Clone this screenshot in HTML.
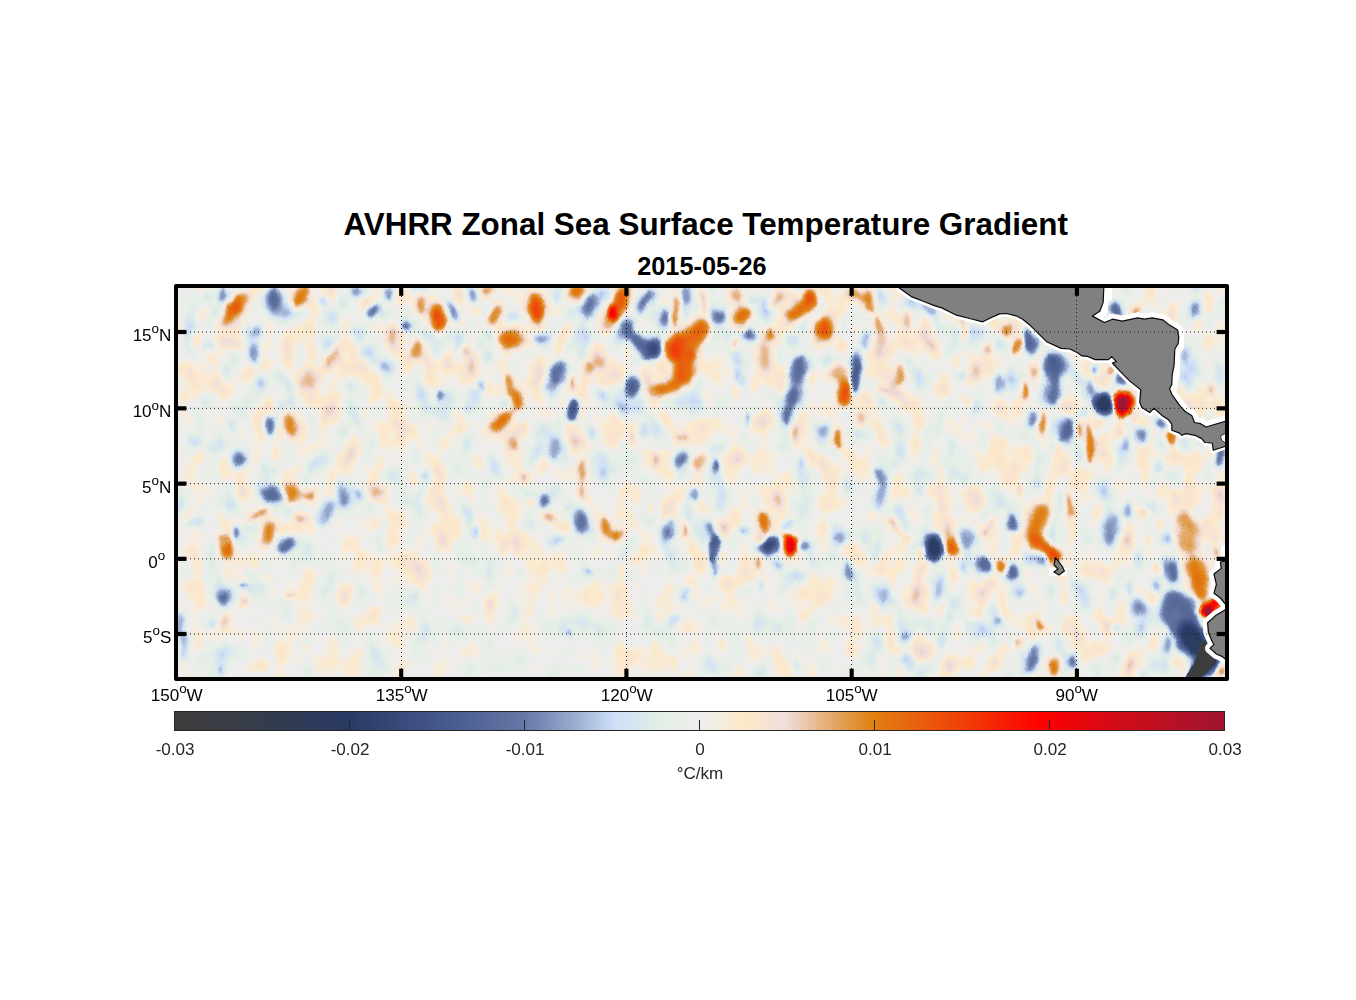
<!DOCTYPE html>
<html><head><meta charset="utf-8"><title>AVHRR Zonal Sea Surface Temperature Gradient</title>
<style>
html,body{margin:0;padding:0;background:#fff;}
body{width:1356px;height:1000px;overflow:hidden;font-family:"Liberation Sans",sans-serif;}
svg{display:block;position:absolute;left:0;top:0;}
text{font-family:"Liberation Sans",sans-serif;}
.ax{font-size:17.07px;fill:#000;}
.cb{font-size:17.07px;fill:#262626;}
.sup{font-size:13.4px;}
</style></head><body>
<svg width="1356" height="1000" viewBox="0 0 1356 1000">
<defs>
<clipPath id="mc"><rect x="178" y="288" width="1047" height="389"/></clipPath>
<filter id="b1" filterUnits="userSpaceOnUse" x="150" y="260" width="1100" height="450" color-interpolation-filters="sRGB"><feGaussianBlur stdDeviation="1.2"/></filter>
<filter id="b2" filterUnits="userSpaceOnUse" x="150" y="260" width="1100" height="450" color-interpolation-filters="sRGB"><feGaussianBlur stdDeviation="2.7"/></filter>
<filter id="b3" filterUnits="userSpaceOnUse" x="150" y="260" width="1100" height="450" color-interpolation-filters="sRGB"><feGaussianBlur stdDeviation="3.9"/></filter>
<filter id="b4" filterUnits="userSpaceOnUse" x="150" y="260" width="1100" height="450" color-interpolation-filters="sRGB"><feGaussianBlur stdDeviation="4.8"/></filter>
<filter id="b5" filterUnits="userSpaceOnUse" x="150" y="260" width="1100" height="450" color-interpolation-filters="sRGB"><feGaussianBlur stdDeviation="7"/></filter>
<filter id="cm" filterUnits="userSpaceOnUse" x="66" y="176" width="1271" height="613" color-interpolation-filters="sRGB">
<feTurbulence type="fractalNoise" baseFrequency="0.044 0.031" numOctaves="2" seed="7" result="n"/>
<feColorMatrix in="n" type="matrix" values="1 0 0 0 0  1 0 0 0 0  1 0 0 0 0  0 0 0 0 1" result="ng"/>
<feTurbulence type="fractalNoise" baseFrequency="0.055 0.04" numOctaves="2" seed="5" result="dn"/>
<feDisplacementMap in="SourceGraphic" in2="dn" scale="8" xChannelSelector="R" yChannelSelector="G" result="SG"/>
<feFlood flood-color="#c4c4c4" result="m0"/>
<feFlood flood-color="#f2f2f2" x="100" y="200" width="1200" height="215" result="m1"/>
<feFlood flood-color="#e6e6e6" x="880" y="200" width="450" height="600" result="m2"/>
<feFlood flood-color="#8c8c8c" x="100" y="565" width="760" height="220" result="m3"/>
<feFlood flood-color="#b8b8b8" x="420" y="470" width="440" height="100" result="m4"/>
<feMerge result="mm"><feMergeNode in="m0"/><feMergeNode in="m1"/><feMergeNode in="m2"/><feMergeNode in="m3"/><feMergeNode in="m4"/></feMerge>
<feGaussianBlur in="mm" stdDeviation="30" result="M0"/>
<feComponentTransfer in="SG" result="sup"><feFuncR type="table" tableValues="0.300 0.300 0.300 0.300 0.300 0.300 0.300 0.300 0.300 0.300 0.300 0.300 0.300 0.300 0.300 0.300 0.350 0.512 0.675 0.837 1.000 0.837 0.675 0.513 0.350 0.300 0.300 0.300 0.300 0.300 0.300 0.300 0.300 0.300 0.300 0.300 0.300 0.300 0.300 0.300 0.300"/><feFuncG type="table" tableValues="0.300 0.300 0.300 0.300 0.300 0.300 0.300 0.300 0.300 0.300 0.300 0.300 0.300 0.300 0.300 0.300 0.350 0.512 0.675 0.837 1.000 0.837 0.675 0.513 0.350 0.300 0.300 0.300 0.300 0.300 0.300 0.300 0.300 0.300 0.300 0.300 0.300 0.300 0.300 0.300 0.300"/><feFuncB type="table" tableValues="0.300 0.300 0.300 0.300 0.300 0.300 0.300 0.300 0.300 0.300 0.300 0.300 0.300 0.300 0.300 0.300 0.350 0.512 0.675 0.837 1.000 0.837 0.675 0.513 0.350 0.300 0.300 0.300 0.300 0.300 0.300 0.300 0.300 0.300 0.300 0.300 0.300 0.300 0.300 0.300 0.300"/></feComponentTransfer>
<feComposite in="M0" in2="sup" operator="arithmetic" k1="1" k2="0" k3="0" k4="0" result="M"/>
<feComposite in="ng" in2="M" operator="arithmetic" k1="1" k2="0" k3="0" k4="0" result="nm"/>
<feComposite in="SG" in2="nm" operator="arithmetic" k1="0" k2="1" k3="0.22" k4="0" result="s1"/>
<feComposite in="s1" in2="M" operator="arithmetic" k1="0" k2="1" k3="-0.1100" k4="0.1000" result="s"/>
<feComponentTransfer in="s">
<feFuncR type="table" tableValues="0.235 0.235 0.235 0.235 0.235 0.235 0.235 0.235 0.235 0.235 0.235 0.235 0.235 0.235 0.235 0.235 0.235 0.235 0.235 0.235 0.235 0.235 0.235 0.235 0.235 0.235 0.235 0.235 0.235 0.235 0.235 0.235 0.235 0.235 0.235 0.235 0.235 0.235 0.235 0.235 0.235 0.235 0.235 0.235 0.235 0.235 0.235 0.235 0.235 0.235 0.235 0.235 0.235 0.235 0.233 0.231 0.229 0.227 0.225 0.223 0.221 0.219 0.214 0.210 0.205 0.200 0.196 0.191 0.187 0.182 0.177 0.173 0.168 0.164 0.159 0.162 0.172 0.183 0.193 0.203 0.214 0.224 0.234 0.245 0.255 0.265 0.277 0.289 0.301 0.312 0.324 0.336 0.348 0.360 0.372 0.383 0.401 0.436 0.472 0.507 0.542 0.577 0.614 0.654 0.695 0.735 0.776 0.813 0.828 0.842 0.856 0.871 0.885 0.897 0.906 0.915 0.924 0.932 0.943 0.954 0.965 0.975 0.985 0.989 0.979 0.968 0.957 0.946 0.937 0.929 0.921 0.914 0.906 0.897 0.889 0.880 0.878 0.878 0.878 0.882 0.888 0.894 0.900 0.905 0.911 0.917 0.923 0.929 0.935 0.940 0.947 0.953 0.959 0.965 0.971 0.978 0.984 0.990 0.996 0.992 0.973 0.954 0.935 0.916 0.898 0.879 0.860 0.841 0.822 0.806 0.791 0.776 0.762 0.747 0.732 0.717 0.703 0.688 0.673 0.659 0.644 0.629 0.627 0.627 0.627 0.627 0.627 0.627 0.627 0.627 0.627 0.627 0.627"/>
<feFuncG type="table" tableValues="0.235 0.235 0.235 0.235 0.235 0.235 0.235 0.235 0.235 0.235 0.235 0.235 0.235 0.235 0.235 0.235 0.235 0.235 0.235 0.235 0.235 0.235 0.235 0.235 0.235 0.235 0.235 0.235 0.235 0.235 0.235 0.235 0.235 0.235 0.235 0.235 0.235 0.235 0.235 0.235 0.235 0.235 0.235 0.235 0.235 0.235 0.235 0.235 0.235 0.235 0.235 0.235 0.235 0.235 0.235 0.235 0.235 0.235 0.235 0.235 0.235 0.235 0.235 0.234 0.233 0.233 0.232 0.232 0.231 0.231 0.230 0.229 0.229 0.228 0.228 0.233 0.243 0.253 0.264 0.274 0.284 0.295 0.305 0.315 0.326 0.336 0.348 0.360 0.372 0.385 0.397 0.409 0.421 0.433 0.445 0.458 0.476 0.510 0.545 0.579 0.614 0.648 0.684 0.724 0.764 0.804 0.843 0.880 0.890 0.900 0.910 0.921 0.931 0.937 0.936 0.935 0.934 0.933 0.931 0.929 0.927 0.923 0.916 0.908 0.899 0.891 0.883 0.875 0.852 0.816 0.780 0.744 0.708 0.674 0.641 0.609 0.577 0.546 0.514 0.487 0.464 0.441 0.417 0.394 0.370 0.347 0.324 0.300 0.277 0.254 0.228 0.201 0.175 0.148 0.122 0.095 0.069 0.042 0.016 0.002 0.007 0.012 0.016 0.021 0.026 0.031 0.036 0.041 0.046 0.049 0.051 0.054 0.056 0.059 0.061 0.063 0.066 0.068 0.071 0.073 0.076 0.078 0.078 0.078 0.078 0.078 0.078 0.078 0.078 0.078 0.078 0.078 0.078"/>
<feFuncB type="table" tableValues="0.235 0.235 0.235 0.235 0.235 0.235 0.235 0.235 0.235 0.235 0.235 0.235 0.235 0.235 0.235 0.235 0.235 0.235 0.235 0.235 0.235 0.235 0.235 0.235 0.235 0.235 0.235 0.235 0.235 0.235 0.235 0.235 0.235 0.235 0.235 0.235 0.235 0.235 0.235 0.235 0.235 0.235 0.235 0.235 0.235 0.235 0.235 0.235 0.235 0.235 0.235 0.235 0.235 0.235 0.240 0.245 0.250 0.255 0.260 0.265 0.270 0.276 0.285 0.293 0.302 0.311 0.319 0.328 0.336 0.345 0.354 0.362 0.371 0.379 0.388 0.399 0.413 0.427 0.441 0.455 0.469 0.483 0.497 0.511 0.525 0.539 0.550 0.561 0.571 0.581 0.592 0.602 0.612 0.623 0.633 0.643 0.658 0.685 0.713 0.740 0.768 0.795 0.823 0.854 0.884 0.915 0.946 0.971 0.957 0.944 0.930 0.916 0.903 0.897 0.906 0.915 0.924 0.932 0.912 0.888 0.864 0.838 0.807 0.789 0.807 0.825 0.843 0.862 0.830 0.752 0.673 0.595 0.516 0.437 0.359 0.280 0.214 0.150 0.086 0.061 0.058 0.055 0.052 0.049 0.046 0.043 0.040 0.038 0.035 0.032 0.028 0.025 0.022 0.019 0.015 0.012 0.009 0.005 0.002 0.004 0.014 0.023 0.033 0.043 0.052 0.062 0.072 0.081 0.091 0.099 0.106 0.114 0.121 0.129 0.136 0.143 0.151 0.158 0.165 0.173 0.180 0.187 0.188 0.188 0.188 0.188 0.188 0.188 0.188 0.188 0.188 0.188 0.188"/>
</feComponentTransfer>
</filter>
<linearGradient id="cbg" x1="0" y1="0" x2="1" y2="0">
<stop offset="0.0" stop-color="#3c3c3c"/><stop offset="0.06" stop-color="#383c46"/><stop offset="0.167" stop-color="#283a64"/><stop offset="0.25" stop-color="#44568a"/><stop offset="0.333" stop-color="#6477a6"/><stop offset="0.38" stop-color="#9aacd0"/><stop offset="0.42" stop-color="#cfe0f8"/><stop offset="0.465" stop-color="#e4efe4"/><stop offset="0.5" stop-color="#eeeeee"/><stop offset="0.528" stop-color="#f8ecd8"/><stop offset="0.544" stop-color="#fde8c8"/><stop offset="0.581" stop-color="#f0dede"/><stop offset="0.62" stop-color="#e6b07a"/><stop offset="0.641" stop-color="#e09a44"/><stop offset="0.666" stop-color="#e08010"/><stop offset="0.75" stop-color="#f04008"/><stop offset="0.824" stop-color="#ff0000"/><stop offset="0.9" stop-color="#d00c18"/><stop offset="1.0" stop-color="#a01430"/></linearGradient></defs>
<rect x="0" y="0" width="1356" height="1000" fill="#ffffff"/>
<text x="705.7" y="234.8" text-anchor="middle" font-size="31.4" font-weight="bold" fill="#000">AVHRR Zonal Sea Surface Temperature Gradient</text>
<text x="701.9" y="275" text-anchor="middle" font-size="25.3" font-weight="bold" fill="#000">2015-05-26</text>
<rect x="176" y="286" width="1051" height="393" fill="#eeeeee"/>
<g clip-path="url(#mc)">
<g filter="url(#cm)">
<rect x="60" y="170" width="1284" height="626" fill="#808080"/>
<g filter="url(#b4)"><ellipse cx="286.0" cy="346.0" rx="6" ry="14" fill="#8a8a8a"/><ellipse cx="316.0" cy="372.0" rx="18" ry="20" fill="#888888"/><ellipse cx="216.0" cy="386.0" rx="15" ry="10" fill="#888888"/><ellipse cx="352.0" cy="442.0" rx="9" ry="17" fill="#888888"/><ellipse cx="384.0" cy="434.0" rx="9" ry="13" fill="#8c8c8c" transform="rotate(20 384.0 434.0)"/><ellipse cx="336.0" cy="414.0" rx="11" ry="7" fill="#898989"/><ellipse cx="235.0" cy="344.0" rx="8" ry="7" fill="#8f8f8f"/><ellipse cx="472.0" cy="366.0" rx="10" ry="14" fill="#8c8c8c"/><ellipse cx="598.0" cy="352.0" rx="12" ry="16" fill="#888888"/><ellipse cx="602.0" cy="382.0" rx="8" ry="6" fill="#909090"/><ellipse cx="558.0" cy="312.0" rx="8" ry="8" fill="#898989"/><ellipse cx="696.0" cy="426.0" rx="14" ry="8" fill="#898989"/><ellipse cx="616.0" cy="422.0" rx="6" ry="8" fill="#909090"/><ellipse cx="948.0" cy="456.0" rx="7" ry="20" fill="#757575" transform="rotate(-10 948.0 456.0)"/><ellipse cx="766.0" cy="370.0" rx="14" ry="18" fill="#8b8b8b"/><ellipse cx="890.0" cy="362.0" rx="12" ry="25" fill="#8c8c8c"/><ellipse cx="932.0" cy="350.0" rx="8" ry="14" fill="#898989"/><ellipse cx="764.0" cy="418.0" rx="8" ry="8" fill="#8e8e8e"/><ellipse cx="736.0" cy="456.0" rx="6" ry="15" fill="#8a8a8a"/><ellipse cx="776.0" cy="462.0" rx="10" ry="10" fill="#888888"/><ellipse cx="824.0" cy="466.0" rx="6" ry="10" fill="#8a8a8a"/><ellipse cx="904.0" cy="470.0" rx="6" ry="8" fill="#8b8b8b"/><ellipse cx="1006.0" cy="458.0" rx="25" ry="18" fill="#888888"/><ellipse cx="1204.0" cy="376.0" rx="10" ry="12" fill="#888888"/><ellipse cx="1190.0" cy="460.0" rx="6" ry="8" fill="#8b8b8b"/><ellipse cx="1142.0" cy="458.0" rx="6" ry="8" fill="#8b8b8b"/><ellipse cx="226.0" cy="650.0" rx="6" ry="8" fill="#6e6e6e"/><ellipse cx="418.0" cy="574.0" rx="10" ry="14" fill="#8c8c8c" transform="rotate(15 418.0 574.0)"/><ellipse cx="352.0" cy="544.0" rx="7" ry="10" fill="#898989"/><ellipse cx="346.0" cy="594.0" rx="6" ry="10" fill="#8a8a8a"/><ellipse cx="434.0" cy="498.0" rx="7" ry="12" fill="#898989"/><ellipse cx="376.0" cy="520.0" rx="7" ry="14" fill="#898989"/><ellipse cx="242.0" cy="492.0" rx="8" ry="6" fill="#8b8b8b"/><ellipse cx="522.0" cy="540.0" rx="12" ry="14" fill="#8c8c8c" transform="rotate(-20 522.0 540.0)"/><ellipse cx="560.0" cy="500.0" rx="8" ry="10" fill="#898989"/><ellipse cx="616.0" cy="612.0" rx="6" ry="10" fill="#8a8a8a"/><ellipse cx="574.0" cy="594.0" rx="6" ry="8" fill="#8b8b8b" transform="rotate(20 574.0 594.0)"/><ellipse cx="658.0" cy="618.0" rx="6" ry="6" fill="#8d8d8d"/><ellipse cx="736.0" cy="580.0" rx="18" ry="8" fill="#8d8d8d" transform="rotate(-30 736.0 580.0)"/><ellipse cx="822.0" cy="586.0" rx="10" ry="14" fill="#888888"/><ellipse cx="774.0" cy="498.0" rx="10" ry="12" fill="#888888"/><ellipse cx="926.0" cy="650.0" rx="7" ry="12" fill="#8e8e8e"/><ellipse cx="952.0" cy="584.0" rx="6" ry="14" fill="#8a8a8a"/><ellipse cx="968.0" cy="496.0" rx="10" ry="6" fill="#8a8a8a"/><ellipse cx="748.0" cy="640.0" rx="6" ry="8" fill="#8b8b8b"/><ellipse cx="1098.0" cy="650.0" rx="14" ry="10" fill="#888888" transform="rotate(-20 1098.0 650.0)"/><ellipse cx="972.0" cy="500.0" rx="12" ry="14" fill="#888888"/><ellipse cx="1100.0" cy="596.0" rx="8" ry="12" fill="#898989"/><ellipse cx="1212.0" cy="532.0" rx="6" ry="12" fill="#8a8a8a"/></g>
<g filter="url(#b3)"><ellipse cx="195.0" cy="440.0" rx="5" ry="6" fill="#6d6d6d"/><ellipse cx="366.0" cy="352.0" rx="8" ry="5" fill="#6f6f6f"/><ellipse cx="386.0" cy="366.0" rx="6" ry="5" fill="#6d6d6d"/><ellipse cx="262.0" cy="382.0" rx="5" ry="6" fill="#6d6d6d"/><ellipse cx="410.0" cy="362.0" rx="5" ry="13" fill="#8a8a8a"/><ellipse cx="430.0" cy="376.0" rx="5" ry="13" fill="#8a8a8a" transform="rotate(10 430.0 376.0)"/><ellipse cx="276.0" cy="456.0" rx="5" ry="11" fill="#8a8a8a"/><ellipse cx="196.0" cy="462.0" rx="8" ry="5" fill="#8a8a8a" transform="rotate(-30 196.0 462.0)"/><ellipse cx="197.0" cy="341.0" rx="5" ry="10" fill="#8f8f8f"/><ellipse cx="234.0" cy="308.0" rx="22.45" ry="7.499999999999999" fill="#a0a0a0" transform="rotate(-55 234.0 308.0)"/><ellipse cx="236.0" cy="307.0" rx="9.799999999999999" ry="6.35" fill="#a8a8a8" transform="rotate(-55 236.0 307.0)"/><ellipse cx="274.0" cy="298.0" rx="8.649999999999999" ry="12.1" fill="#616161"/><ellipse cx="302.0" cy="296.0" rx="14.399999999999999" ry="7.499999999999999" fill="#a1a1a1" transform="rotate(-50 302.0 296.0)"/><ellipse cx="356.0" cy="293.0" rx="7.499999999999999" ry="6.35" fill="#656565"/><ellipse cx="407.0" cy="326.0" rx="6.35" ry="6.35" fill="#5a5a5a"/><ellipse cx="421.0" cy="304.0" rx="6.35" ry="10.95" fill="#9b9b9b"/><ellipse cx="439.0" cy="320.0" rx="8.649999999999999" ry="14.399999999999999" fill="#a7a7a7"/><ellipse cx="417.0" cy="349.0" rx="7.499999999999999" ry="10.95" fill="#9c9c9c" transform="rotate(20 417.0 349.0)"/><ellipse cx="254.0" cy="354.0" rx="6.35" ry="12.1" fill="#676767"/><ellipse cx="333.0" cy="358.0" rx="15.549999999999999" ry="6.35" fill="#989898" transform="rotate(-55 333.0 358.0)"/><ellipse cx="312.0" cy="376.0" rx="12.1" ry="8.649999999999999" fill="#909090"/><ellipse cx="289.0" cy="424.0" rx="8.649999999999999" ry="14.399999999999999" fill="#9c9c9c" transform="rotate(-15 289.0 424.0)"/><ellipse cx="239.0" cy="460.0" rx="8.649999999999999" ry="9.799999999999999" fill="#606060"/><ellipse cx="537.0" cy="308.0" rx="9.799999999999999" ry="14.399999999999999" fill="#a7a7a7" transform="rotate(-10 537.0 308.0)"/><ellipse cx="495.0" cy="314.0" rx="7.499999999999999" ry="13.249999999999998" fill="#a0a0a0" transform="rotate(20 495.0 314.0)"/><ellipse cx="510.0" cy="340.0" rx="10.95" ry="9.799999999999999" fill="#a0a0a0"/><ellipse cx="576.0" cy="291.0" rx="8.649999999999999" ry="6.35" fill="#a0a0a0"/><ellipse cx="618.0" cy="306.0" rx="8.649999999999999" ry="23.6" fill="#a4a4a4" transform="rotate(30 618.0 306.0)"/><ellipse cx="606.0" cy="326.0" rx="6.35" ry="9.799999999999999" fill="#989898" transform="rotate(30 606.0 326.0)"/><ellipse cx="682.0" cy="350.0" rx="16.7" ry="16.7" fill="#a8a8a8"/><ellipse cx="696.0" cy="334.0" rx="9.799999999999999" ry="19.0" fill="#a1a1a1" transform="rotate(35 696.0 334.0)"/><ellipse cx="684.0" cy="372.0" rx="10.95" ry="16.7" fill="#a3a3a3"/><ellipse cx="666.0" cy="388.0" rx="16.7" ry="7.499999999999999" fill="#a1a1a1" transform="rotate(-15 666.0 388.0)"/><ellipse cx="510.0" cy="386.0" rx="6.35" ry="14.399999999999999" fill="#9f9f9f" transform="rotate(-10 510.0 386.0)"/><ellipse cx="518.0" cy="402.0" rx="6.35" ry="9.799999999999999" fill="#a5a5a5"/><ellipse cx="502.0" cy="420.0" rx="14.399999999999999" ry="7.499999999999999" fill="#a1a1a1" transform="rotate(-35 502.0 420.0)"/><ellipse cx="589.0" cy="306.0" rx="7.499999999999999" ry="13.249999999999998" fill="#606060" transform="rotate(15 589.0 306.0)"/><ellipse cx="646.0" cy="300.0" rx="6.35" ry="16.7" fill="#5e5e5e" transform="rotate(40 646.0 300.0)"/><ellipse cx="663.0" cy="318.0" rx="6.35" ry="10.95" fill="#5e5e5e"/><ellipse cx="627.0" cy="330.0" rx="7.499999999999999" ry="12.1" fill="#5e5e5e"/><ellipse cx="652.0" cy="348.0" rx="10.95" ry="10.95" fill="#4e4e4e"/><ellipse cx="640.0" cy="343.0" rx="12.1" ry="7.499999999999999" fill="#5c5c5c" transform="rotate(25 640.0 343.0)"/><ellipse cx="632.0" cy="386.0" rx="8.649999999999999" ry="10.95" fill="#5a5a5a"/><ellipse cx="540.0" cy="339.0" rx="9.799999999999999" ry="6.35" fill="#656565" transform="rotate(20 540.0 339.0)"/><ellipse cx="557.0" cy="372.0" rx="7.499999999999999" ry="14.399999999999999" fill="#5e5e5e" transform="rotate(15 557.0 372.0)"/><ellipse cx="548.0" cy="388.0" rx="6.35" ry="6.35" fill="#6c6c6c"/><ellipse cx="555.0" cy="448.0" rx="8.649999999999999" ry="14.399999999999999" fill="#696969"/><ellipse cx="681.0" cy="460.0" rx="7.499999999999999" ry="9.799999999999999" fill="#616161" transform="rotate(20 681.0 460.0)"/><ellipse cx="643.0" cy="430.0" rx="5" ry="10" fill="#6f6f6f"/><ellipse cx="513.0" cy="316.0" rx="6" ry="5" fill="#6d6d6d"/><ellipse cx="458.0" cy="294.0" rx="6" ry="5" fill="#8b8b8b"/><ellipse cx="810.0" cy="300.0" rx="7.499999999999999" ry="13.249999999999998" fill="#acacac"/><ellipse cx="798.0" cy="312.0" rx="14.399999999999999" ry="7.499999999999999" fill="#a1a1a1" transform="rotate(-30 798.0 312.0)"/><ellipse cx="742.0" cy="316.0" rx="9.799999999999999" ry="8.649999999999999" fill="#a2a2a2" transform="rotate(-40 742.0 316.0)"/><ellipse cx="738.0" cy="296.0" rx="8.649999999999999" ry="9.799999999999999" fill="#969696"/><ellipse cx="823.0" cy="329.0" rx="9.799999999999999" ry="10.95" fill="#a3a3a3"/><ellipse cx="868.0" cy="302.0" rx="7.499999999999999" ry="12.1" fill="#a1a1a1" transform="rotate(-15 868.0 302.0)"/><ellipse cx="854.0" cy="293.0" rx="6.35" ry="7.499999999999999" fill="#9e9e9e"/><ellipse cx="845.0" cy="392.0" rx="7.499999999999999" ry="16.7" fill="#a8a8a8"/><ellipse cx="838.0" cy="372.0" rx="9.799999999999999" ry="12.1" fill="#989898"/><ellipse cx="861.0" cy="419.0" rx="7.499999999999999" ry="8.649999999999999" fill="#939393"/><ellipse cx="720.0" cy="316.0" rx="7.499999999999999" ry="7.499999999999999" fill="#626262"/><ellipse cx="750.0" cy="335.0" rx="8.649999999999999" ry="7.499999999999999" fill="#5e5e5e"/><ellipse cx="799.0" cy="370.0" rx="8.649999999999999" ry="15.549999999999999" fill="#5d5d5d" transform="rotate(20 799.0 370.0)"/><ellipse cx="792.0" cy="398.0" rx="6.35" ry="14.399999999999999" fill="#5d5d5d" transform="rotate(15 792.0 398.0)"/><ellipse cx="824.0" cy="430.0" rx="7" ry="5" fill="#6e6e6e"/><ellipse cx="1007.0" cy="328.0" rx="6.35" ry="7.499999999999999" fill="#a2a2a2"/><ellipse cx="1034.0" cy="372.0" rx="6.35" ry="7.499999999999999" fill="#999999" transform="rotate(-30 1034.0 372.0)"/><ellipse cx="1098.0" cy="424.0" rx="7.499999999999999" ry="6.35" fill="#929292"/><ellipse cx="1123.0" cy="404.0" rx="10.95" ry="13.249999999999998" fill="#a9a9a9"/><ellipse cx="1030.0" cy="342.0" rx="7.499999999999999" ry="13.249999999999998" fill="#595959" transform="rotate(-20 1030.0 342.0)"/><ellipse cx="1054.0" cy="370.0" rx="9.799999999999999" ry="19.0" fill="#5b5b5b"/><ellipse cx="1052.0" cy="394.0" rx="8.649999999999999" ry="14.399999999999999" fill="#5f5f5f"/><ellipse cx="1103.4" cy="402.4" rx="10.374999999999998" ry="11.524999999999999" fill="#454545"/><ellipse cx="1067.0" cy="430.0" rx="6.35" ry="14.399999999999999" fill="#5d5d5d" transform="rotate(25 1067.0 430.0)"/><ellipse cx="1141.0" cy="436.0" rx="6.35" ry="8.649999999999999" fill="#5f5f5f"/><ellipse cx="1160.0" cy="424.0" rx="6.35" ry="6.35" fill="#5c5c5c"/><ellipse cx="1116.0" cy="310.0" rx="10.95" ry="6.35" fill="#5c5c5c" transform="rotate(30 1116.0 310.0)"/><ellipse cx="1195.0" cy="308.0" rx="6.35" ry="9.799999999999999" fill="#626262"/><ellipse cx="976.0" cy="370.0" rx="5" ry="8" fill="#8f8f8f"/><ellipse cx="226.0" cy="548.0" rx="6.35" ry="10.95" fill="#a5a5a5" transform="rotate(-10 226.0 548.0)"/><ellipse cx="269.0" cy="534.0" rx="8.649999999999999" ry="14.399999999999999" fill="#9c9c9c" transform="rotate(15 269.0 534.0)"/><ellipse cx="293.0" cy="494.0" rx="9.799999999999999" ry="10.95" fill="#9d9d9d"/><ellipse cx="310.0" cy="495.0" rx="6.35" ry="6.35" fill="#9e9e9e"/><ellipse cx="376.0" cy="492.0" rx="6.35" ry="8.649999999999999" fill="#919191"/><ellipse cx="273.0" cy="494.0" rx="9.799999999999999" ry="9.799999999999999" fill="#5e5e5e"/><ellipse cx="285.0" cy="545.0" rx="10.95" ry="8.649999999999999" fill="#5e5e5e" transform="rotate(-25 285.0 545.0)"/><ellipse cx="328.0" cy="510.0" rx="6.35" ry="14.399999999999999" fill="#6a6a6a" transform="rotate(25 328.0 510.0)"/><ellipse cx="223.0" cy="597.0" rx="7.499999999999999" ry="7.499999999999999" fill="#5e5e5e"/><ellipse cx="195.0" cy="523.0" rx="9.799999999999999" ry="6.35" fill="#6e6e6e" transform="rotate(-30 195.0 523.0)"/><ellipse cx="250.0" cy="574.0" rx="5" ry="5" fill="#6c6c6c"/><ellipse cx="260.0" cy="664.0" rx="8" ry="5" fill="#8a8a8a"/><ellipse cx="376.0" cy="612.0" rx="6" ry="5" fill="#8b8b8b"/><ellipse cx="442.0" cy="546.0" rx="5" ry="8" fill="#8a8a8a"/><ellipse cx="615.0" cy="535.0" rx="10.95" ry="6.35" fill="#9e9e9e"/><ellipse cx="581.0" cy="523.0" rx="8.649999999999999" ry="13.249999999999998" fill="#636363" transform="rotate(-20 581.0 523.0)"/><ellipse cx="668.0" cy="533.0" rx="7.499999999999999" ry="9.799999999999999" fill="#616161"/><ellipse cx="558.0" cy="540.0" rx="10" ry="5" fill="#6c6c6c" transform="rotate(-25 558.0 540.0)"/><ellipse cx="468.0" cy="618.0" rx="5" ry="5" fill="#8c8c8c"/><ellipse cx="456.0" cy="522.0" rx="5" ry="8" fill="#8a8a8a"/><ellipse cx="672.0" cy="664.0" rx="5" ry="6" fill="#8b8b8b"/><ellipse cx="502.0" cy="548.0" rx="5" ry="10" fill="#8a8a8a"/><ellipse cx="638.0" cy="496.0" rx="5" ry="8" fill="#8a8a8a"/><ellipse cx="764.0" cy="523.0" rx="7.499999999999999" ry="13.249999999999998" fill="#a4a4a4"/><ellipse cx="791.0" cy="545.0" rx="7.499999999999999" ry="10.95" fill="#ababab"/><ellipse cx="953.0" cy="548.0" rx="6.35" ry="10.95" fill="#a7a7a7"/><ellipse cx="770.0" cy="545.0" rx="10.95" ry="9.799999999999999" fill="#505050" transform="rotate(-15 770.0 545.0)"/><ellipse cx="934.0" cy="548.0" rx="9.799999999999999" ry="13.249999999999998" fill="#454545"/><ellipse cx="880.0" cy="494.0" rx="6.35" ry="16.7" fill="#686868" transform="rotate(15 880.0 494.0)"/><ellipse cx="970.0" cy="536.0" rx="8.649999999999999" ry="7.499999999999999" fill="#696969"/><ellipse cx="842.0" cy="538.0" rx="6.35" ry="6.35" fill="#676767"/><ellipse cx="799.0" cy="577.0" rx="7.499999999999999" ry="7.499999999999999" fill="#6e6e6e"/><ellipse cx="935.0" cy="588.0" rx="5" ry="12" fill="#6c6c6c"/><ellipse cx="882.0" cy="596.0" rx="7.499999999999999" ry="9.799999999999999" fill="#6f6f6f" transform="rotate(20 882.0 596.0)"/><ellipse cx="907.0" cy="660.0" rx="6.35" ry="8.649999999999999" fill="#696969" transform="rotate(-30 907.0 660.0)"/><ellipse cx="952.0" cy="616.0" rx="5" ry="5" fill="#6c6c6c"/><ellipse cx="804.0" cy="614.0" rx="6" ry="5" fill="#8b8b8b"/><ellipse cx="890.0" cy="640.0" rx="5" ry="6" fill="#8b8b8b"/><ellipse cx="1037.0" cy="526.0" rx="9.799999999999999" ry="23.6" fill="#9e9e9e" transform="rotate(15 1037.0 526.0)"/><ellipse cx="1037.0" cy="542.0" rx="7.499999999999999" ry="8.649999999999999" fill="#a8a8a8"/><ellipse cx="1054.0" cy="555.0" rx="9.799999999999999" ry="7.499999999999999" fill="#aaaaaa" transform="rotate(35 1054.0 555.0)"/><ellipse cx="1045.0" cy="549.0" rx="7.499999999999999" ry="6.35" fill="#a7a7a7" transform="rotate(30 1045.0 549.0)"/><ellipse cx="1186.0" cy="534.0" rx="10.95" ry="23.6" fill="#989898" transform="rotate(-10 1186.0 534.0)"/><ellipse cx="1200.0" cy="584.0" rx="9.799999999999999" ry="19.0" fill="#a1a1a1" transform="rotate(-10 1200.0 584.0)"/><ellipse cx="1194.0" cy="566.0" rx="9.799999999999999" ry="9.799999999999999" fill="#9a9a9a"/><ellipse cx="1054.0" cy="666.0" rx="6.35" ry="12.1" fill="#a3a3a3"/><ellipse cx="1172.0" cy="570.0" rx="6.35" ry="12.1" fill="#5f5f5f" transform="rotate(-15 1172.0 570.0)"/><ellipse cx="1168.0" cy="608.0" rx="9.799999999999999" ry="16.7" fill="#676767"/><ellipse cx="1180.0" cy="616.0" rx="16.7" ry="25.9" fill="#5f5f5f" transform="rotate(-25 1180.0 616.0)"/><ellipse cx="1192.0" cy="640.0" rx="14.399999999999999" ry="19.0" fill="#464646" transform="rotate(-30 1192.0 640.0)"/><ellipse cx="1202.0" cy="666.0" rx="8.649999999999999" ry="12.1" fill="#4a4a4a" transform="rotate(30 1202.0 666.0)"/><ellipse cx="1112.0" cy="530.0" rx="9.799999999999999" ry="19.0" fill="#676767" transform="rotate(20 1112.0 530.0)"/><ellipse cx="1138.0" cy="608.0" rx="7.499999999999999" ry="10.95" fill="#656565"/><ellipse cx="1013.0" cy="573.0" rx="6.35" ry="9.799999999999999" fill="#595959"/><ellipse cx="1018.0" cy="592.0" rx="7.499999999999999" ry="7.499999999999999" fill="#6d6d6d" transform="rotate(30 1018.0 592.0)"/><ellipse cx="968.0" cy="538.0" rx="9.799999999999999" ry="12.1" fill="#696969"/><ellipse cx="985.0" cy="565.0" rx="6.35" ry="7.499999999999999" fill="#626262" transform="rotate(-30 985.0 565.0)"/><ellipse cx="1032.0" cy="658.0" rx="7.499999999999999" ry="16.7" fill="#606060" transform="rotate(15 1032.0 658.0)"/><ellipse cx="1064.0" cy="598.0" rx="5" ry="10" fill="#8f8f8f"/><ellipse cx="1026.0" cy="570.0" rx="5" ry="5" fill="#8c8c8c"/></g>
<g filter="url(#b2)"><ellipse cx="233.0" cy="426.0" rx="4" ry="7" fill="#707070"/><ellipse cx="424.0" cy="476.0" rx="4" ry="5" fill="#707070"/><ellipse cx="213.0" cy="346.0" rx="5.199999999999999" ry="6.35" fill="#6f6f6f"/><ellipse cx="324.0" cy="301.0" rx="4.05" ry="6.35" fill="#6d6d6d"/><ellipse cx="256.0" cy="332.0" rx="4" ry="6" fill="#707070"/><ellipse cx="223.0" cy="295.0" rx="4.05" ry="8.649999999999999" fill="#666666" transform="rotate(10 223.0 295.0)"/><ellipse cx="373.0" cy="310.0" rx="7.499999999999999" ry="5.199999999999999" fill="#606060" transform="rotate(-40 373.0 310.0)"/><ellipse cx="388.0" cy="293.0" rx="5.199999999999999" ry="7.499999999999999" fill="#686868"/><ellipse cx="270.0" cy="426.0" rx="5.199999999999999" ry="10.95" fill="#606060"/><ellipse cx="441.0" cy="395.0" rx="4.05" ry="6.35" fill="#656565"/><ellipse cx="488.0" cy="290.0" rx="7.499999999999999" ry="5.199999999999999" fill="#969696"/><ellipse cx="613.0" cy="313.0" rx="5.199999999999999" ry="7.499999999999999" fill="#b8b8b8"/><ellipse cx="676.0" cy="311.0" rx="5.199999999999999" ry="17.85" fill="#9a9a9a"/><ellipse cx="704.0" cy="302.0" rx="3" ry="12" fill="#939393"/><ellipse cx="465.0" cy="352.0" rx="5.199999999999999" ry="6.35" fill="#919191"/><ellipse cx="588.0" cy="368.0" rx="5.199999999999999" ry="6.35" fill="#919191"/><ellipse cx="573.0" cy="382.0" rx="4.05" ry="7.499999999999999" fill="#999999"/><ellipse cx="514.0" cy="446.0" rx="4.05" ry="6.35" fill="#939393"/><ellipse cx="583.0" cy="470.0" rx="5.199999999999999" ry="12.1" fill="#969696"/><ellipse cx="683.0" cy="436.0" rx="7.499999999999999" ry="5.199999999999999" fill="#919191"/><ellipse cx="699.0" cy="462.0" rx="5.199999999999999" ry="9.799999999999999" fill="#949494" transform="rotate(25 699.0 462.0)"/><ellipse cx="655.0" cy="460.0" rx="4.05" ry="8.649999999999999" fill="#939393"/><ellipse cx="630.0" cy="440.0" rx="3" ry="9" fill="#939393"/><ellipse cx="525.0" cy="478.0" rx="4.05" ry="6.35" fill="#939393"/><ellipse cx="574.0" cy="410.0" rx="5.199999999999999" ry="13.249999999999998" fill="#545454" transform="rotate(10 574.0 410.0)"/><ellipse cx="453.0" cy="312.0" rx="5.199999999999999" ry="9.799999999999999" fill="#686868" transform="rotate(-20 453.0 312.0)"/><ellipse cx="473.0" cy="296.0" rx="4.05" ry="8.649999999999999" fill="#6b6b6b"/><ellipse cx="483.0" cy="386.0" rx="4.05" ry="6.35" fill="#676767"/><ellipse cx="686.0" cy="294.0" rx="5.199999999999999" ry="9.799999999999999" fill="#696969" transform="rotate(-20 686.0 294.0)"/><ellipse cx="590.0" cy="434.0" rx="4" ry="8" fill="#717171"/><ellipse cx="715.0" cy="466.0" rx="4.05" ry="7.499999999999999" fill="#5e5e5e"/><ellipse cx="769.0" cy="335.0" rx="5.199999999999999" ry="7.499999999999999" fill="#9c9c9c"/><ellipse cx="776.0" cy="302.0" rx="5.199999999999999" ry="12.1" fill="#919191" transform="rotate(35 776.0 302.0)"/><ellipse cx="736.0" cy="342.0" rx="4.05" ry="6.35" fill="#989898"/><ellipse cx="878.0" cy="324.0" rx="5.199999999999999" ry="12.1" fill="#9a9a9a" transform="rotate(-10 878.0 324.0)"/><ellipse cx="882.0" cy="340.0" rx="4.05" ry="7.499999999999999" fill="#919191"/><ellipse cx="908.0" cy="320.0" rx="5.199999999999999" ry="12.1" fill="#929292"/><ellipse cx="901.0" cy="374.0" rx="5.199999999999999" ry="10.95" fill="#999999"/><ellipse cx="884.0" cy="390.0" rx="7.499999999999999" ry="5.199999999999999" fill="#919191" transform="rotate(20 884.0 390.0)"/><ellipse cx="839.0" cy="439.0" rx="5.199999999999999" ry="12.1" fill="#9e9e9e"/><ellipse cx="795.0" cy="436.0" rx="4.05" ry="10.95" fill="#919191"/><ellipse cx="963.0" cy="322.0" rx="4.05" ry="5.199999999999999" fill="#929292"/><ellipse cx="967.0" cy="402.0" rx="4" ry="6" fill="#909090"/><ellipse cx="787.0" cy="416.0" rx="4.05" ry="9.799999999999999" fill="#616161"/><ellipse cx="856.0" cy="374.0" rx="5.199999999999999" ry="21.3" fill="#595959"/><ellipse cx="866.0" cy="340.0" rx="5.199999999999999" ry="9.799999999999999" fill="#6c6c6c"/><ellipse cx="739.0" cy="377.0" rx="4.05" ry="7.499999999999999" fill="#6c6c6c"/><ellipse cx="748.0" cy="420.0" rx="2.9" ry="8.649999999999999" fill="#686868"/><ellipse cx="880.0" cy="476.0" rx="5.199999999999999" ry="10.95" fill="#676767" transform="rotate(-20 880.0 476.0)"/><ellipse cx="932.0" cy="311.0" rx="6.35" ry="5.199999999999999" fill="#6f6f6f"/><ellipse cx="963.0" cy="376.0" rx="2" ry="6" fill="#626262"/><ellipse cx="802.0" cy="460.0" rx="4" ry="8" fill="#717171"/><ellipse cx="1016.0" cy="346.0" rx="5.199999999999999" ry="9.799999999999999" fill="#9d9d9d"/><ellipse cx="989.0" cy="350.0" rx="5.199999999999999" ry="5.199999999999999" fill="#929292"/><ellipse cx="1025.0" cy="392.0" rx="4.05" ry="10.95" fill="#9d9d9d"/><ellipse cx="1043.0" cy="424.0" rx="4.05" ry="12.1" fill="#9c9c9c"/><ellipse cx="1090.0" cy="444.0" rx="5.199999999999999" ry="21.3" fill="#9e9e9e" transform="rotate(-5 1090.0 444.0)"/><ellipse cx="1078.0" cy="432.0" rx="4.05" ry="9.799999999999999" fill="#9c9c9c"/><ellipse cx="1171.0" cy="439.0" rx="5.199999999999999" ry="9.799999999999999" fill="#a1a1a1"/><ellipse cx="1110.0" cy="371.0" rx="4.05" ry="5.199999999999999" fill="#9c9c9c"/><ellipse cx="1137.0" cy="311.0" rx="4.05" ry="4.05" fill="#9b9b9b"/><ellipse cx="1135.0" cy="415.0" rx="4.05" ry="6.35" fill="#939393"/><ellipse cx="964.0" cy="332.0" rx="4.05" ry="12.1" fill="#919191"/><ellipse cx="1211.0" cy="390.0" rx="5.199999999999999" ry="6.35" fill="#909090"/><ellipse cx="1123.0" cy="404.0" rx="8.649999999999999" ry="10.95" fill="#bababa"/><ellipse cx="1123.0" cy="403.6" rx="4.624999999999999" ry="6.924999999999999" fill="#f0f0f0"/><ellipse cx="1096.0" cy="369.0" rx="5.199999999999999" ry="6.35" fill="#666666"/><ellipse cx="1088.0" cy="384.0" rx="4.05" ry="5.199999999999999" fill="#686868"/><ellipse cx="1091.0" cy="391.0" rx="4.05" ry="4.05" fill="#656565"/><ellipse cx="1120.0" cy="380.0" rx="5.199999999999999" ry="6.35" fill="#5e5e5e"/><ellipse cx="999.0" cy="384.0" rx="4.05" ry="12.1" fill="#676767"/><ellipse cx="1031.0" cy="420.0" rx="5.199999999999999" ry="7.499999999999999" fill="#656565"/><ellipse cx="1221.0" cy="458.0" rx="5.199999999999999" ry="10.95" fill="#616161"/><ellipse cx="1184.0" cy="354.0" rx="4.05" ry="8.649999999999999" fill="#6d6d6d"/><ellipse cx="1084.0" cy="414.0" rx="4.05" ry="5.199999999999999" fill="#6d6d6d"/><ellipse cx="1126.0" cy="444.0" rx="3" ry="8" fill="#6a6a6a"/><ellipse cx="1158.0" cy="466.0" rx="4" ry="8" fill="#717171"/><ellipse cx="1052.0" cy="446.0" rx="3" ry="6" fill="#6e6e6e"/><ellipse cx="968.0" cy="406.0" rx="4" ry="5" fill="#8e8e8e"/><ellipse cx="1120.0" cy="430.0" rx="4" ry="8" fill="#898989"/><ellipse cx="222.0" cy="539.0" rx="5.199999999999999" ry="5.199999999999999" fill="#989898"/><ellipse cx="258.0" cy="515.0" rx="12.1" ry="4.05" fill="#9a9a9a" transform="rotate(-35 258.0 515.0)"/><ellipse cx="290.0" cy="594.0" rx="6.35" ry="4.05" fill="#939393" transform="rotate(-40 290.0 594.0)"/><ellipse cx="245.0" cy="602.0" rx="6.35" ry="4.05" fill="#929292" transform="rotate(-35 245.0 602.0)"/><ellipse cx="226.0" cy="622.0" rx="5.199999999999999" ry="8.649999999999999" fill="#909090" transform="rotate(10 226.0 622.0)"/><ellipse cx="300.0" cy="518.0" rx="8" ry="4" fill="#909090"/><ellipse cx="236.0" cy="533.0" rx="5.199999999999999" ry="7.499999999999999" fill="#656565"/><ellipse cx="343.0" cy="494.0" rx="4.05" ry="14.399999999999999" fill="#6b6b6b"/><ellipse cx="322.0" cy="522.0" rx="5.199999999999999" ry="6.35" fill="#6f6f6f"/><ellipse cx="243.0" cy="587.0" rx="4.05" ry="2.9" fill="#5e5e5e"/><ellipse cx="180.0" cy="624.0" rx="5.199999999999999" ry="10.95" fill="#6b6b6b"/><ellipse cx="185.0" cy="646.0" rx="5.199999999999999" ry="14.399999999999999" fill="#6e6e6e"/><ellipse cx="359.0" cy="495.0" rx="4" ry="6" fill="#6d6d6d"/><ellipse cx="221.0" cy="670.0" rx="3" ry="6" fill="#6c6c6c"/><ellipse cx="210.0" cy="624.0" rx="4" ry="6" fill="#707070"/><ellipse cx="199.0" cy="640.0" rx="4" ry="14" fill="#898989"/><ellipse cx="306.0" cy="646.0" rx="3" ry="5" fill="#8b8b8b"/><ellipse cx="188.0" cy="586.0" rx="4" ry="5" fill="#8a8a8a"/><ellipse cx="266.0" cy="576.0" rx="4" ry="6" fill="#898989"/><ellipse cx="604.0" cy="525.0" rx="5.199999999999999" ry="10.95" fill="#9c9c9c"/><ellipse cx="550.0" cy="518.0" rx="6.35" ry="5.199999999999999" fill="#969696" transform="rotate(-20 550.0 518.0)"/><ellipse cx="684.0" cy="530.0" rx="2.9" ry="8.649999999999999" fill="#9c9c9c"/><ellipse cx="622.0" cy="572.0" rx="3" ry="10" fill="#8d8d8d"/><ellipse cx="583.0" cy="492.0" rx="3" ry="10" fill="#959595"/><ellipse cx="530.0" cy="504.0" rx="4" ry="5" fill="#8f8f8f"/><ellipse cx="544.0" cy="501.0" rx="5.199999999999999" ry="8.649999999999999" fill="#656565"/><ellipse cx="671.0" cy="522.0" rx="4.05" ry="6.35" fill="#676767"/><ellipse cx="694.0" cy="493.0" rx="5.199999999999999" ry="8.649999999999999" fill="#656565"/><ellipse cx="714.0" cy="550.0" rx="5.199999999999999" ry="16.7" fill="#515151"/><ellipse cx="710.0" cy="528.0" rx="5.199999999999999" ry="7.499999999999999" fill="#696969"/><ellipse cx="476.0" cy="534.0" rx="4.05" ry="7.499999999999999" fill="#6c6c6c" transform="rotate(30 476.0 534.0)"/><ellipse cx="590.0" cy="572.0" rx="6" ry="4" fill="#6d6d6d"/><ellipse cx="568.0" cy="635.0" rx="3" ry="4" fill="#676767"/><ellipse cx="686.0" cy="594.0" rx="4.05" ry="9.799999999999999" fill="#6d6d6d" transform="rotate(20 686.0 594.0)"/><ellipse cx="673.0" cy="620.0" rx="3" ry="8" fill="#6c6c6c" transform="rotate(20 673.0 620.0)"/><ellipse cx="692.0" cy="546.0" rx="4" ry="10" fill="#898989"/><ellipse cx="686.0" cy="628.0" rx="8" ry="4" fill="#898989" transform="rotate(-30 686.0 628.0)"/><ellipse cx="654.0" cy="644.0" rx="4" ry="8" fill="#898989"/><ellipse cx="492.0" cy="600.0" rx="4" ry="10" fill="#898989"/><ellipse cx="548.0" cy="582.0" rx="4" ry="5" fill="#8a8a8a"/><ellipse cx="632.0" cy="560.0" rx="6" ry="4" fill="#8e8e8e"/><ellipse cx="650.0" cy="508.0" rx="3" ry="8" fill="#8b8b8b"/><ellipse cx="759.0" cy="536.0" rx="5.199999999999999" ry="7.499999999999999" fill="#929292"/><ellipse cx="759.0" cy="562.0" rx="4.05" ry="7.499999999999999" fill="#969696"/><ellipse cx="791.0" cy="545.0" rx="5.199999999999999" ry="8.649999999999999" fill="#bebebe"/><ellipse cx="893.0" cy="521.0" rx="4.05" ry="5.199999999999999" fill="#959595"/><ellipse cx="895.0" cy="530.0" rx="2.9" ry="6.35" fill="#959595"/><ellipse cx="921.0" cy="552.0" rx="2.9" ry="6.35" fill="#959595"/><ellipse cx="984.0" cy="532.0" rx="4.05" ry="5.199999999999999" fill="#989898"/><ellipse cx="804.0" cy="546.0" rx="6.35" ry="5.199999999999999" fill="#666666" transform="rotate(-20 804.0 546.0)"/><ellipse cx="983.0" cy="564.0" rx="5.199999999999999" ry="7.499999999999999" fill="#5e5e5e"/><ellipse cx="716.0" cy="552.0" rx="4.05" ry="9.799999999999999" fill="#5c5c5c"/><ellipse cx="716.0" cy="570.0" rx="4.05" ry="7.499999999999999" fill="#676767"/><ellipse cx="849.0" cy="570.0" rx="4.05" ry="10.95" fill="#666666"/><ellipse cx="788.0" cy="525.0" rx="9.799999999999999" ry="5.199999999999999" fill="#6f6f6f" transform="rotate(-35 788.0 525.0)"/><ellipse cx="778.0" cy="564.0" rx="4.05" ry="6.35" fill="#6c6c6c"/><ellipse cx="743.0" cy="531.0" rx="4.05" ry="6.35" fill="#6a6a6a"/><ellipse cx="964.0" cy="568.0" rx="3" ry="7" fill="#6c6c6c"/><ellipse cx="761.0" cy="586.0" rx="3" ry="5" fill="#696969"/><ellipse cx="796.0" cy="666.0" rx="4" ry="5" fill="#707070"/><ellipse cx="904.0" cy="638.0" rx="6" ry="4" fill="#707070" transform="rotate(-30 904.0 638.0)"/><ellipse cx="725.0" cy="528.0" rx="4" ry="10" fill="#8d8d8d"/><ellipse cx="904.0" cy="538.0" rx="8" ry="4" fill="#8d8d8d" transform="rotate(30 904.0 538.0)"/><ellipse cx="892.0" cy="592.0" rx="3" ry="6" fill="#8b8b8b"/><ellipse cx="722.0" cy="644.0" rx="3" ry="6" fill="#8b8b8b"/><ellipse cx="974.0" cy="612.0" rx="8" ry="4" fill="#898989"/><ellipse cx="882.0" cy="566.0" rx="4" ry="10" fill="#898989"/><ellipse cx="1069.0" cy="506.0" rx="5.199999999999999" ry="13.249999999999998" fill="#9a9a9a" transform="rotate(-10 1069.0 506.0)"/><ellipse cx="1208.0" cy="610.0" rx="9.799999999999999" ry="7.499999999999999" fill="#bdbdbd" transform="rotate(-35 1208.0 610.0)"/><ellipse cx="1207.0" cy="613.0" rx="4.05" ry="4.05" fill="#fcfcfc"/><ellipse cx="1218.0" cy="602.0" rx="6.35" ry="5.199999999999999" fill="#b9b9b9"/><ellipse cx="1216.0" cy="552.0" rx="5.199999999999999" ry="6.35" fill="#969696"/><ellipse cx="1002.0" cy="566.0" rx="5.199999999999999" ry="8.649999999999999" fill="#9f9f9f"/><ellipse cx="1041.0" cy="625.0" rx="5.199999999999999" ry="5.199999999999999" fill="#9e9e9e"/><ellipse cx="1018.0" cy="643.0" rx="2.9" ry="5.199999999999999" fill="#9e9e9e"/><ellipse cx="988.0" cy="527.0" rx="8.649999999999999" ry="4.05" fill="#919191" transform="rotate(-40 988.0 527.0)"/><ellipse cx="1145.0" cy="513.0" rx="4.05" ry="6.35" fill="#929292"/><ellipse cx="1159.0" cy="570.0" rx="3" ry="5" fill="#949494"/><ellipse cx="1222.0" cy="671.0" rx="4.05" ry="5.199999999999999" fill="#9c9c9c"/><ellipse cx="1214.0" cy="664.0" rx="4.05" ry="9.799999999999999" fill="#4a4a4a" transform="rotate(30 1214.0 664.0)"/><ellipse cx="1128.0" cy="510.0" rx="4.05" ry="8.649999999999999" fill="#666666"/><ellipse cx="1013.0" cy="523.0" rx="5.199999999999999" ry="9.799999999999999" fill="#616161"/><ellipse cx="1042.0" cy="561.0" rx="5.199999999999999" ry="5.199999999999999" fill="#686868"/><ellipse cx="1073.0" cy="662.0" rx="4.05" ry="6.35" fill="#616161"/><ellipse cx="1157.0" cy="586.0" rx="4.05" ry="7.499999999999999" fill="#676767" transform="rotate(-20 1157.0 586.0)"/><ellipse cx="1129.0" cy="588.0" rx="4.05" ry="9.799999999999999" fill="#6c6c6c" transform="rotate(-20 1129.0 588.0)"/><ellipse cx="1166.0" cy="538.0" rx="5.199999999999999" ry="7.499999999999999" fill="#6f6f6f"/><ellipse cx="1167.0" cy="644.0" rx="4.05" ry="9.799999999999999" fill="#696969"/><ellipse cx="998.0" cy="620.0" rx="2.9" ry="5.199999999999999" fill="#676767"/><ellipse cx="1116.0" cy="628.0" rx="5" ry="4" fill="#6c6c6c"/><ellipse cx="972.0" cy="616.0" rx="8" ry="4" fill="#898989"/><ellipse cx="1150.0" cy="540.0" rx="4" ry="4" fill="#8b8b8b"/><ellipse cx="1176.0" cy="664.0" rx="5" ry="4" fill="#8a8a8a"/><ellipse cx="1020.0" cy="490.0" rx="3" ry="6" fill="#909090"/></g>
<g filter="url(#b1)"><path d="M1201,642 L1207,641 L1212.5,656 L1214.5,663 L1206,671 L1199,678 L1187,678 L1192,669 L1198,659.6 L1200.5,650 Z" fill="#030303"/></g>
</g>
<path d="M1232.0,419.3 L1206.1,427.0 L1200.6,423.7 L1194.5,422.5 L1191.7,415.4 L1185.1,411.5 L1179.6,405.4 L1171.8,394.3 L1169.6,388.8 L1171.8,384.4 L1172.1,375.6 L1174.1,365.0 L1174.8,349.0 L1178.1,343.7 L1178.8,337.1 L1177.4,329.8 L1169.5,325.1 L1162.8,319.8 L1152.2,317.8 L1144.3,319.2 L1137.6,317.8 L1122.3,321.2 L1112.4,319.2" fill="none" stroke="#fff" stroke-width="11" stroke-linejoin="round" stroke-linecap="round"/>
<path d="M899.3,284.0 L899.3,288.0 L911.2,296.6 L923.2,301.2 L935.1,305.9 L941.8,307.9 L956.4,315.2 L969.6,318.5 L982.9,321.8 L990.9,317.8 L999.5,313.9 L1006.8,313.5 L1016.1,315.8 L1022.7,319.2 L1030.7,325.8 L1038.7,333.8 L1046.6,341.7 L1061.2,348.4 L1069.9,349.0 L1077.9,353.0 L1081.9,355.9 L1087.2,356.3 L1095.1,359.6 L1108.4,359.6 L1111.7,356.7 L1116.4,361.6 L1112.4,363.0 L1120.4,371.6 L1129.6,380.9 L1140.8,389.9 L1139.7,402.1 L1141.9,407.6 L1149.7,412.6 L1154.1,408.2 L1161.9,415.4 L1168.5,419.8 L1171.8,424.2 L1171.8,430.3 L1179.6,433.1 L1181.8,435.3 L1186.2,433.6 L1195.0,435.3 L1201.7,438.6 L1205.0,442.5 L1212.2,443.0 L1213.3,450.2 L1232.0,444.0 L1232.0,419.3 L1206.1,427.0 L1200.6,423.7 L1194.5,422.5 L1191.7,415.4 L1185.1,411.5 L1179.6,405.4 L1171.8,394.3 L1169.6,388.8 L1171.8,384.4 L1172.1,375.6 L1174.1,365.0 L1174.8,349.0 L1178.1,343.7 L1178.8,337.1 L1177.4,329.8 L1169.5,325.1 L1162.8,319.8 L1152.2,317.8 L1144.3,319.2 L1137.6,317.8 L1122.3,321.2 L1112.4,319.2 L1104.4,322.5 L1092.5,316.1 L1099.8,311.2 L1103.1,302.6 L1103.8,288.0 L1103.8,284.0 Z" fill="#fff" stroke="#fff" stroke-width="6.5" stroke-linejoin="round"/>
<path d="M1232.0,560.0 L1224.9,561.2 L1220.4,562.0 L1221.2,568.4 L1214.0,574.0 L1216.4,584.4 L1214.0,593.2 L1220.4,598.0 L1224.9,603.6 L1232.0,606.0 Z" fill="#fff" stroke="#fff" stroke-width="10" stroke-linejoin="round"/>
<path d="M1232.0,606.0 L1224.9,610.0 L1215.6,615.6 L1207.6,622.8 L1208.4,632.4 L1212.4,642.0 L1214.0,644.4 L1210.0,648.4 L1216.4,654.0 L1222.0,656.4 L1224.9,658.8 L1232.0,661.0 Z" fill="#fff" stroke="#fff" stroke-width="10" stroke-linejoin="round"/>
<rect x="1049" y="568" width="18" height="7.6" fill="#fff"/>
<rect x="1221" y="546" width="5" height="11" fill="#fff"/>
<path d="M1103,288 L1112,288 L1112,300 L1108,302 L1108,312 L1104,318 L1092,318 Z" fill="#fff"/>
<path d="M1162,316 L1176,322 L1184,330 L1184,348 L1180,352 L1180,372 L1176,392 L1170,392 L1174,350 L1178,336 Z" fill="#fff"/>
<path d="M899.3,284.0 L899.3,288.0 L911.2,296.6 L923.2,301.2 L935.1,305.9 L941.8,307.9 L956.4,315.2 L969.6,318.5 L982.9,321.8 L990.9,317.8 L999.5,313.9 L1006.8,313.5 L1016.1,315.8 L1022.7,319.2 L1030.7,325.8 L1038.7,333.8 L1046.6,341.7 L1061.2,348.4 L1069.9,349.0 L1077.9,353.0 L1081.9,355.9 L1087.2,356.3 L1095.1,359.6 L1108.4,359.6 L1111.7,356.7 L1116.4,361.6 L1112.4,363.0 L1120.4,371.6 L1129.6,380.9 L1140.8,389.9 L1139.7,402.1 L1141.9,407.6 L1149.7,412.6 L1154.1,408.2 L1161.9,415.4 L1168.5,419.8 L1171.8,424.2 L1171.8,430.3 L1179.6,433.1 L1181.8,435.3 L1186.2,433.6 L1195.0,435.3 L1201.7,438.6 L1205.0,442.5 L1212.2,443.0 L1213.3,450.2 L1232.0,444.0 L1232.0,419.3 L1206.1,427.0 L1200.6,423.7 L1194.5,422.5 L1191.7,415.4 L1185.1,411.5 L1179.6,405.4 L1171.8,394.3 L1169.6,388.8 L1171.8,384.4 L1172.1,375.6 L1174.1,365.0 L1174.8,349.0 L1178.1,343.7 L1178.8,337.1 L1177.4,329.8 L1169.5,325.1 L1162.8,319.8 L1152.2,317.8 L1144.3,319.2 L1137.6,317.8 L1122.3,321.2 L1112.4,319.2 L1104.4,322.5 L1092.5,316.1 L1099.8,311.2 L1103.1,302.6 L1103.8,288.0 L1103.8,284.0 Z" fill="#808080" stroke="#0a0a0a" stroke-width="1.2" stroke-linejoin="round"/>
<path d="M1232.0,560.0 L1224.9,561.2 L1220.4,562.0 L1221.2,568.4 L1214.0,574.0 L1216.4,584.4 L1214.0,593.2 L1220.4,598.0 L1224.9,603.6 L1232.0,606.0 Z" fill="#808080" stroke="#0a0a0a" stroke-width="1.2" stroke-linejoin="round"/>
<path d="M1232.0,606.0 L1224.9,610.0 L1215.6,615.6 L1207.6,622.8 L1208.4,632.4 L1212.4,642.0 L1214.0,644.4 L1210.0,648.4 L1216.4,654.0 L1222.0,656.4 L1224.9,658.8 L1232.0,661.0 Z" fill="#808080" stroke="#0a0a0a" stroke-width="1.2" stroke-linejoin="round"/>
<path d="M1055.6,557.6 L1062.0,566.0 L1064.4,571.0 L1059.0,575.0 L1054.0,572.0 L1058.0,569.0 L1054.0,565.0 Z" fill="#808080" stroke="#0a0a0a" stroke-width="1.2" stroke-linejoin="round"/>
<path d="M1226,433 L1220.5,436 L1221.5,440 L1226,443.5 Z" fill="#fff" stroke="#111" stroke-width="0.8"/>
</g>
<line x1="401.5" y1="288" x2="401.5" y2="677" stroke="#1a1a1a" stroke-width="1" stroke-dasharray="1 3" fill="none"/><line x1="626.5" y1="288" x2="626.5" y2="677" stroke="#1a1a1a" stroke-width="1" stroke-dasharray="1 3" fill="none"/><line x1="851.5" y1="288" x2="851.5" y2="677" stroke="#1a1a1a" stroke-width="1" stroke-dasharray="1 3" fill="none"/><line x1="1076.5" y1="288" x2="1076.5" y2="677" stroke="#1a1a1a" stroke-width="1" stroke-dasharray="1 3" fill="none"/><line x1="178" y1="332" x2="1225" y2="332" stroke="#1a1a1a" stroke-width="1" stroke-dasharray="1 3" fill="none"/><line x1="178" y1="408.35" x2="1225" y2="408.35" stroke="#1a1a1a" stroke-width="1" stroke-dasharray="1 3" fill="none"/><line x1="178" y1="483.65" x2="1225" y2="483.65" stroke="#1a1a1a" stroke-width="1" stroke-dasharray="1 3" fill="none"/><line x1="178" y1="558.85" x2="1225" y2="558.85" stroke="#1a1a1a" stroke-width="1" stroke-dasharray="1 3" fill="none"/><line x1="178" y1="634.0" x2="1225" y2="634.0" stroke="#1a1a1a" stroke-width="1" stroke-dasharray="1 3" fill="none"/>
<rect x="176" y="286" width="1051" height="393" fill="none" stroke="#000" stroke-width="4" stroke-linejoin="round"/>
<rect x="399.15" y="288" width="4.1" height="7.8" fill="#000"/><rect x="399.15" y="668.7" width="4.1" height="8.3" fill="#000"/><rect x="624.35" y="288" width="4.1" height="7.8" fill="#000"/><rect x="624.35" y="668.7" width="4.1" height="8.3" fill="#000"/><rect x="849.65" y="288" width="4.1" height="7.8" fill="#000"/><rect x="849.65" y="668.7" width="4.1" height="8.3" fill="#000"/><rect x="1074.85" y="288" width="4.1" height="7.8" fill="#000"/><rect x="1074.85" y="668.7" width="4.1" height="8.3" fill="#000"/><rect x="178" y="329.90" width="8.4" height="4.2" fill="#000"/><rect x="1216.6" y="329.90" width="8.4" height="4.2" fill="#000"/><rect x="178" y="406.25" width="8.4" height="4.2" fill="#000"/><rect x="1216.6" y="406.25" width="8.4" height="4.2" fill="#000"/><rect x="178" y="481.55" width="8.4" height="4.2" fill="#000"/><rect x="1216.6" y="481.55" width="8.4" height="4.2" fill="#000"/><rect x="178" y="556.75" width="8.4" height="4.2" fill="#000"/><rect x="1216.6" y="556.75" width="8.4" height="4.2" fill="#000"/><rect x="178" y="631.90" width="8.4" height="4.2" fill="#000"/><rect x="1216.6" y="631.90" width="8.4" height="4.2" fill="#000"/>
<text class="ax" x="176.7" y="700.8" text-anchor="middle">150<tspan class="sup" dy="-7.5">o</tspan><tspan dy="7.5">W</tspan></text><text class="ax" x="401.7" y="700.8" text-anchor="middle">135<tspan class="sup" dy="-7.5">o</tspan><tspan dy="7.5">W</tspan></text><text class="ax" x="626.7" y="700.8" text-anchor="middle">120<tspan class="sup" dy="-7.5">o</tspan><tspan dy="7.5">W</tspan></text><text class="ax" x="851.7" y="700.8" text-anchor="middle">105<tspan class="sup" dy="-7.5">o</tspan><tspan dy="7.5">W</tspan></text><text class="ax" x="1076.7" y="700.8" text-anchor="middle">90<tspan class="sup" dy="-7.5">o</tspan><tspan dy="7.5">W</tspan></text><text class="ax" x="171.4" y="340.9" text-anchor="end">15<tspan class="sup" dy="-7.5">o</tspan><tspan dy="7.5">N</tspan></text><text class="ax" x="171.4" y="417.2" text-anchor="end">10<tspan class="sup" dy="-7.5">o</tspan><tspan dy="7.5">N</tspan></text><text class="ax" x="171.4" y="492.5" text-anchor="end">5<tspan class="sup" dy="-7.5">o</tspan><tspan dy="7.5">N</tspan></text><text class="ax" x="165.3" y="567.8" text-anchor="end">0<tspan class="sup" dy="-7.5">o</tspan><tspan dy="7.5"></tspan></text><text class="ax" x="171.4" y="642.9" text-anchor="end">5<tspan class="sup" dy="-7.5">o</tspan><tspan dy="7.5">S</tspan></text>
<rect x="174.5" y="711.5" width="1050" height="19" fill="url(#cbg)" stroke="#262626" stroke-width="1"/>
<line x1="349.5" y1="720" x2="349.5" y2="730.5" stroke="#262626" stroke-width="1"/><line x1="524.5" y1="720" x2="524.5" y2="730.5" stroke="#262626" stroke-width="1"/><line x1="699.5" y1="720" x2="699.5" y2="730.5" stroke="#262626" stroke-width="1"/><line x1="874.5" y1="720" x2="874.5" y2="730.5" stroke="#262626" stroke-width="1"/><line x1="1049.5" y1="720" x2="1049.5" y2="730.5" stroke="#262626" stroke-width="1"/><text class="cb" x="175.1" y="754.7" text-anchor="middle">-0.03</text><text class="cb" x="350.1" y="754.7" text-anchor="middle">-0.02</text><text class="cb" x="525.1" y="754.7" text-anchor="middle">-0.01</text><text class="cb" x="700.1" y="754.7" text-anchor="middle">0</text><text class="cb" x="875.1" y="754.7" text-anchor="middle">0.01</text><text class="cb" x="1050.1" y="754.7" text-anchor="middle">0.02</text><text class="cb" x="1225.1" y="754.7" text-anchor="middle">0.03</text><text class="cb" x="700" y="778.5" text-anchor="middle">°C/km</text>
</svg></body></html>
